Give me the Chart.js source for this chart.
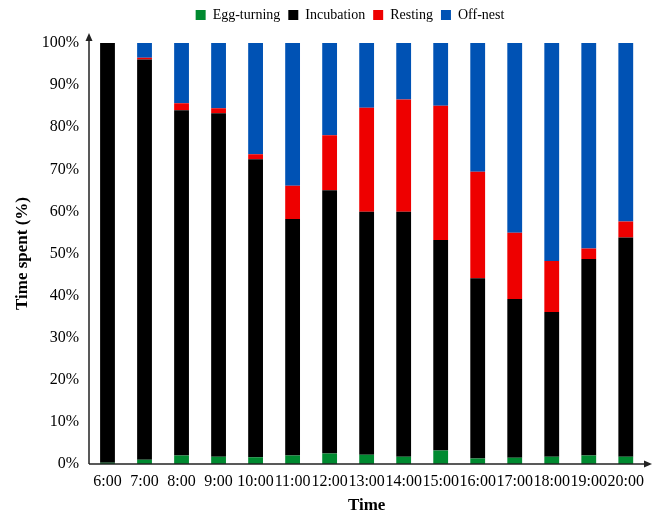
<!DOCTYPE html>
<html>
<head>
<meta charset="utf-8">
<script src="https://cdn.jsdelivr.net/npm/chart.js@4/dist/chart.umd.min.js"></script>
<style>
html,body{margin:0;padding:0;background:#fff;}
#c{display:block;}
</style>
</head>
<body>
<canvas id="c" width="652" height="516"></canvas>
<script>
const categories = ["6:00","7:00","8:00","9:00","10:00","11:00","12:00","13:00","14:00","15:00","16:00","17:00","18:00","19:00","20:00"];
const eggTurning = [0.3, 1.0, 2.0, 1.7, 1.6, 2.0, 2.5, 2.2, 1.7, 3.2, 1.3, 1.5, 1.7, 2.0, 1.7];
const incubation = [99.7, 95.1, 82.0, 81.6, 70.8, 56.2, 62.5, 57.7, 58.2, 50.0, 42.8, 37.7, 34.4, 46.7, 52.1];
const resting = [0, 0.4, 1.7, 1.2, 1.2, 7.9, 13.1, 24.7, 26.7, 31.9, 25.3, 15.7, 12.1, 2.5, 3.8];
const offNest = [0, 3.5, 14.3, 15.5, 26.4, 33.9, 21.9, 15.4, 13.4, 14.9, 30.6, 45.1, 51.8, 48.8, 42.4];
const seriesNames = ["Egg-turning", "Incubation", "Resting", "Off-nest"];
const yTicks = [0,10,20,30,40,50,60,70,80,90,100];

const FONT = "'Liberation Serif', 'Times New Roman', serif";
const colors = ["#008a30", "#000000", "#ee0000", "#0052b4"];
const seriesData = [eggTurning, incubation, resting, offNest];

const axisPlugin = {
  id: 'axisArrows',
  beforeLayout(chart){
    const lg = chart.legend;
    if (lg && !lg._patched){
      const f = lg.fit;
      lg.fit = function(){ f.call(this); this.height = 43; };
      lg._patched = true;
    }
  },
  afterLayout(chart){
    const lg = chart.legend;
    if (lg){ lg.left += 24; lg.right += 24; }
  },
  afterDraw(chart){
    const ctx = chart.ctx;
    const a = chart.chartArea;
    ctx.save();
    ctx.strokeStyle = '#222';
    ctx.fillStyle = '#222';
    ctx.lineWidth = 1.5;
    ctx.beginPath();
    ctx.moveTo(a.left, a.bottom);
    ctx.lineTo(a.left, a.top - 4);
    ctx.stroke();
    ctx.beginPath();
    ctx.moveTo(a.left, a.top - 10);
    ctx.lineTo(a.left - 3.5, a.top - 2);
    ctx.lineTo(a.left + 3.5, a.top - 2);
    ctx.closePath();
    ctx.fill();
    ctx.beginPath();
    ctx.moveTo(a.left, a.bottom);
    ctx.lineTo(645, a.bottom);
    ctx.stroke();
    ctx.beginPath();
    ctx.moveTo(652, a.bottom);
    ctx.lineTo(644, a.bottom - 3.5);
    ctx.lineTo(644, a.bottom + 3.5);
    ctx.closePath();
    ctx.fill();
    ctx.restore();
  }
};

new Chart(document.getElementById('c'), {
  type: 'bar',
  data: {
    labels: categories,
    datasets: seriesNames.map((n, i) => ({
      label: n,
      data: seriesData[i],
      backgroundColor: colors[i],
      borderWidth: 0,
      barPercentage: 0.4,
      categoryPercentage: 1.0
    }))
  },
  options: {
    responsive: false,
    animation: false,
    layout: { padding: { left: 0, right: 0, top: 0, bottom: 0 } },
    plugins: {
      legend: {
        position: 'top',
        labels: {
          font: { family: FONT, size: 14 },
          color: '#000',
          boxWidth: 10,
          boxHeight: 10,
          padding: 8
        }
      },
      tooltip: { enabled: false }
    },
    scales: {
      x: {
        stacked: true,
        grid: { display: false, drawTicks: false },
        border: { display: false },
        ticks: {
          autoSkip: false,
          maxRotation: 0,
          minRotation: 0,
          padding: 8,
          color: '#000',
          font: { family: FONT, size: 16 }
        },
        title: {
          display: true,
          text: 'Time',
          color: '#000',
          font: { family: FONT, size: 17, weight: 'bold' },
          padding: { top: 0, bottom: 0 }
        },
        afterFit(scale){ scale.height = 52; }
      },
      y: {
        stacked: true,
        min: 0,
        max: 100,
        afterBuildTicks(scale){ scale.ticks = yTicks.map(v => ({ value: v })); },
        grid: { display: false, drawTicks: false },
        border: { display: false },
        ticks: {
          padding: 10,
          color: '#000',
          font: { family: FONT, size: 16 },
          callback: v => v + '%'
        },
        title: {
          display: true,
          text: 'Time spent (%)',
          color: '#000',
          font: { family: FONT, size: 17, weight: 'bold' },
          padding: { top: 12, bottom: 0 }
        },
        afterFit(scale){ scale.width = 89; }
      }
    }
  },
  plugins: [axisPlugin]
});
</script>
</body>
</html>
